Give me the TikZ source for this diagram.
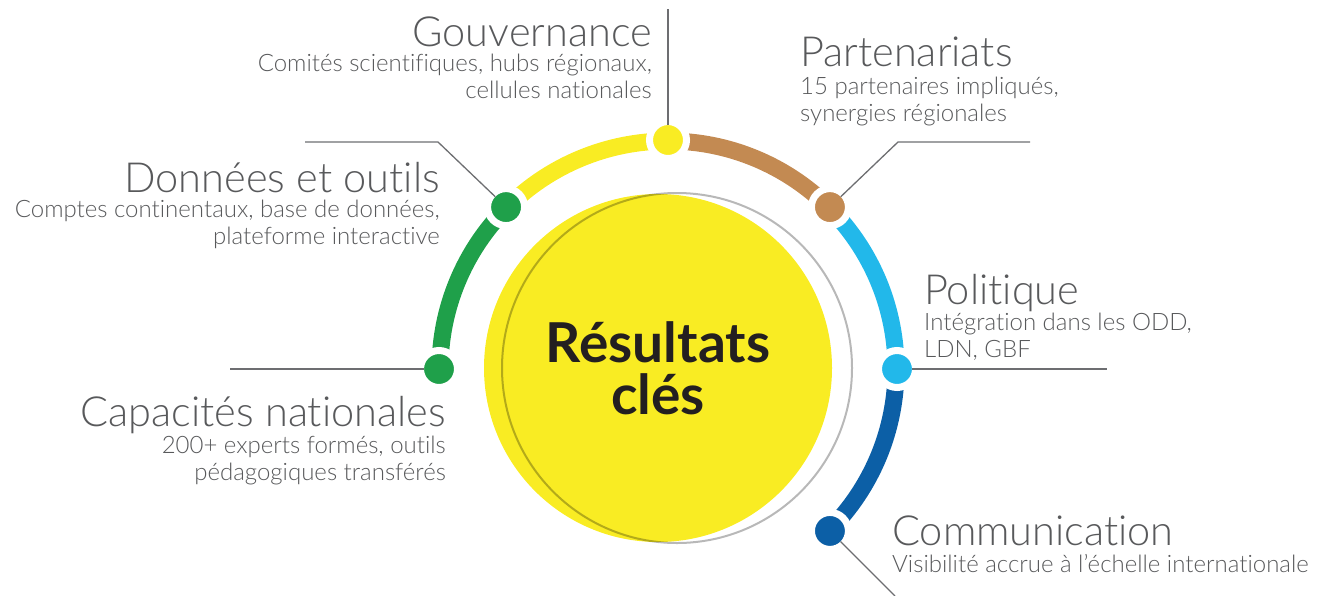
\documentclass[tikz,border=0pt]{standalone}
\usepackage{fontspec}
\setmainfont{Lato Light}[Ligatures={NoCommon}]
\newfontfamily\heavyfont{Lato Bold}[Ligatures={NoCommon}]
\usetikzlibrary{positioning,calc}

\definecolor{txtgray}{HTML}{58595B}
\definecolor{lingray}{HTML}{6D6E71}
\definecolor{ggreen}{HTML}{1FA04A}
\definecolor{gyellow}{HTML}{F9EC23}
\definecolor{gbrown}{HTML}{C38A52}
\definecolor{gsky}{HTML}{22B8EA}
\definecolor{gblue}{HTML}{0C5FA6}
\definecolor{inkdark}{HTML}{231F20}

\tikzset{
  ttl/.style={font=\fontsize{41.5}{46}\selectfont, text=txtgray, inner sep=0pt},
  sub/.style={font=\fontsize{24}{26.5}\selectfont, text=txtgray, inner sep=0pt},
  dot/.style={circle, minimum size=37pt, inner sep=0pt, draw=white, line width=7pt, fill=#1},
  seg/.style={line width=17pt, draw=#1},
  lead/.style={draw=lingray, line width=1.3pt},
}

\begin{document}
\begin{tikzpicture}[x=1pt,y=1pt]
  \useasboundingbox (0,0) rectangle (1330,-595);
  \coordinate (c) at (668,-369);

  %tikz centre
  \node[circle, fill=gyellow, minimum size=348pt, inner sep=0pt] (core) at (658,-368) {};
  \draw[black, draw opacity=0.28, line width=2pt] (677,-368) circle (175pt);
  \node[font=\heavyfont\fontsize{55}{52}\selectfont, text=inkdark, align=center, inner sep=0pt, anchor=base] (res) at (658,-414) {Résultats\\clés};

  %tikz ring
  \draw[seg=ggreen]  ([shift={(180:228pt)}]c) arc[start angle=180, end angle=135, radius=228pt];
  \draw[seg=gyellow] ([shift={(135:228pt)}]c) arc[start angle=135, end angle=90, radius=228pt];
  \draw[seg=gbrown]  ([shift={(90:228pt)}]c) arc[start angle=90, end angle=45, radius=228pt];
  \draw[seg=gsky]    ([shift={(45:228pt)}]c) arc[start angle=45, end angle=0, radius=228pt];
  \draw[seg=gblue]   ([shift={(0:228pt)}]c) arc[start angle=0, end angle=-45, radius=228pt];

  \node[dot=ggreen]  (cap) at ([shift={(180:229pt)}]c) {};
  \node[dot=ggreen]  (don) at ([shift={(135:229pt)}]c) {};
  \node[dot=gyellow] (gov) at ([shift={(90:229pt)}]c) {};
  \node[dot=gbrown]  (par) at ([shift={(45:229pt)}]c) {};
  \node[dot=gsky]    (pol) at ([shift={(0:229pt)}]c) {};
  \node[dot=gblue]   (com) at ([shift={(-45:229pt)}]c) {};

  %tikz leads
  \coordinate (govEnd) at (668,-9);
  \coordinate (parKnee) at (898,-142);
  \coordinate (parEnd) at (1030,-142);
  \coordinate (donKnee) at (438,-142);
  \coordinate (donEnd) at (305,-142);
  \coordinate (capEnd) at (230,-369);
  \coordinate (polEnd) at (1107,-369);
  \coordinate (comEnd) at (895,-596);
  \draw[lead, shorten <=15pt] (gov.center) -- (govEnd);
  \draw[lead, shorten <=15pt] (par.center) -- (parKnee) -- (parEnd);
  \draw[lead, shorten <=15pt] (don.center) -- (donKnee) -- (donEnd);
  \draw[lead, shorten <=15pt] (cap.center) -- (capEnd);
  \draw[lead, shorten <=15pt] (pol.center) -- (polEnd);
  \draw[lead, shorten <=15pt] (com.center) -- (comEnd);

  %tikz labels
  \node[ttl, anchor=base east] (govT) at (652,-46) {Gouvernance};
  \node[sub, anchor=base east, align=right] (govS) at (652,-98) {Comités scientifiques, hubs régionaux,\\cellules nationales};
  \node[ttl, anchor=base west] (parT) at (800,-66) {Partenariats};
  \node[sub, anchor=base west, align=left] (parS) at (800,-121) {15 partenaires impliqués,\\synergies régionales};
  \node[ttl, anchor=base east] (donT) at (440,-192) {Données et outils};
  \node[sub, anchor=base east, align=right] (donS) at (440,-244) {Comptes continentaux, base de données,\\plateforme interactive};
  \node[ttl, anchor=base west] (polT) at (924,-304) {Politique};
  \node[sub, anchor=base west, align=left] (polS) at (924,-357) {Intégration dans les ODD,\\LDN, GBF};
  \node[ttl, anchor=base east] (capT) at (446,-426) {Capacités nationales};
  \node[sub, anchor=base east, align=right] (capS) at (446,-480) {200+ experts formés, outils\\pédagogiques transférés};
  \node[ttl, anchor=base west] (comT) at (892,-545) {Communication};
  \node[sub, anchor=base west] (comS) at (892,-572) {Visibilité accrue à l'échelle internationale};
\end{tikzpicture}
\end{document}
